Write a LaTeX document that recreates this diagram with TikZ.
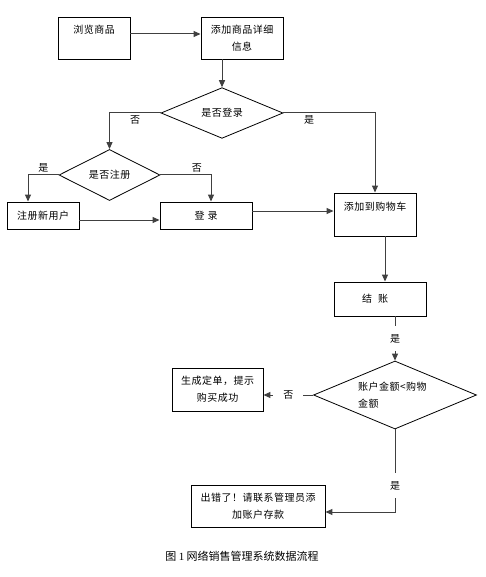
\documentclass[tikz,border=0pt]{standalone}
\usepackage{fontspec}
\setmainfont{Noto Sans CJK SC}
\newfontfamily\boxfont[LetterSpace=5]{Noto Sans CJK SC}
\newfontfamily\numfont{Liberation Serif}
\usetikzlibrary{arrows.meta, shapes.geometric, positioning, calc}

\begin{document}
\begin{tikzpicture}[
    x=1pt, y=-1pt,
    box/.style={rectangle, draw, line width=0.9pt, inner sep=0pt, text centered, font=\boxfont\fontsize{10}{17}\selectfont, align=center},
    decision/.style={diamond, draw, line width=0.8pt, inner sep=0pt, text centered, font=\boxfont\fontsize{10}{17}\selectfont, align=center},
    arrow/.style={-{Triangle[length=7pt, width=6pt]}, draw=black!75, line width=1pt},
    lbl/.style={font=\fontsize{10}{12}\selectfont, inner sep=2pt},
    gap/.style={lbl, fill=white, inner xsep=10pt, inner ysep=8pt}
]
\useasboundingbox (0,0) rectangle (485,577);

% Browse and details
\node[box, minimum width=72pt, minimum height=42pt] (browse) at (94,38) {浏览商品\\\mbox{}};
\node[box, minimum width=82pt, minimum height=42pt] (add_detail) at (242,38) {添加商品详细\\信息};

% Login decision
\node[decision, minimum width=122pt, minimum height=50pt] (is_login) at (222,113) {是否登录};
\node[decision, minimum width=101pt, minimum height=51pt] (is_reg) at (109.5,175) {是否注册};

\node[box, minimum width=72pt, minimum height=27pt] (sign_up) at (43,215.5) {注册新用户};
\node[box, minimum width=92pt, minimum height=27pt] (log_in) at (206,215.5) {登\hspace{3pt}录};

% Cart and checkout
\node[box, minimum width=82pt, minimum height=43pt] (add_cart) at (375,214.5) {添加到购物车\\\mbox{}};
\node[box, minimum width=92pt, minimum height=34pt] (checkout) at (380,299) {结\hspace{6pt}账\hspace{10pt}};

% Balance check
\node[decision, minimum width=163pt, minimum height=68pt, aspect=2.4] (balance) at (395,395)
  {\parbox{74pt}{\raggedright 账户金额<购物\\金额}};

\node[box, minimum width=91pt, minimum height=43pt] (success) at (217.5,389.5) {生成定单，提示\\购买成功};
\node[box, minimum width=134pt, minimum height=42pt] (error) at (258,506) {出错了！请联系管理员添\\加账户存款};

% Caption
\node[font=\fontsize{11}{13}\selectfont] (caption) at (242,556) {图 {\numfont 1} 网络销售管理系统数据流程};

% Arrow Connections
\draw[arrow] ([yshift=4pt]browse.east) -- ([yshift=4pt]add_detail.west);
\draw[arrow] (add_detail.south -| is_login.north) -- (is_login.north);
\draw[arrow] (is_login.west) -| node[lbl, below, pos=0.25] {否} (is_reg.north);
\draw[arrow] (is_login.east) -| node[lbl, below, pos=0.14] {是} (add_cart.north);
\draw[arrow] (is_reg.west) -| node[lbl, above, pos=0.25] {是} ([xshift=-15pt]sign_up.north);
\draw[arrow] (is_reg.east) -| node[lbl, above, pos=0.36] {否} ([xshift=5pt]log_in.north);
\draw[arrow] ([yshift=-4.5pt]sign_up.east) -- ([yshift=-4.5pt]sign_up.east -| log_in.west);
\draw[arrow] ([yshift=4.5pt]log_in.east) -- ([yshift=4.5pt]log_in.east -| add_cart.west);
\draw[arrow] ([xshift=10pt]add_cart.south) -- ([xshift=10pt]add_cart.south |- checkout.north);
\draw[arrow] (checkout.south -| balance.north) -- node[gap] {是} (balance.north);
\draw[arrow] (balance.west) -- node[gap] {否} (balance.west -| success.east);
\draw[arrow] (balance.south) |- node[gap, pos=0.34] {是} ([yshift=-6pt]error.east);
\end{tikzpicture}
\end{document}
